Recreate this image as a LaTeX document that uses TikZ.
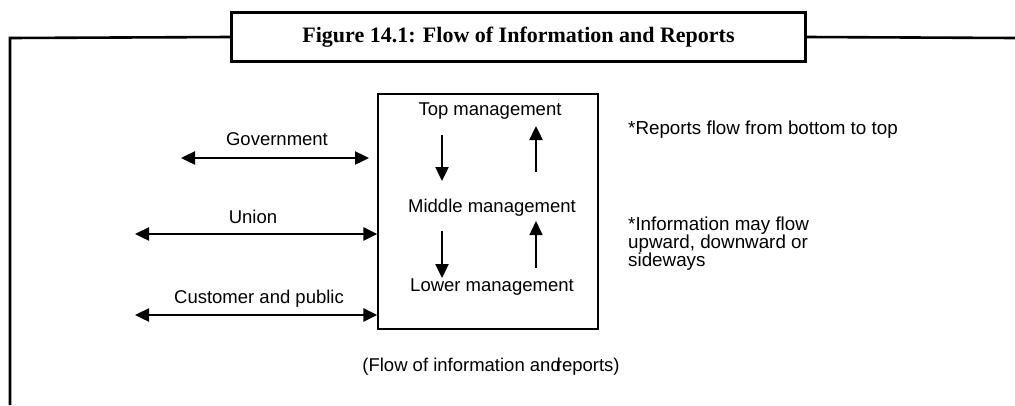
\documentclass[tikz,border=0pt]{standalone}
\usepackage{fontspec}
\setmainfont{Liberation Sans}
\newfontfamily\titlefont{Liberation Serif}
\usetikzlibrary{arrows.meta}
\begin{document}
\begin{tikzpicture}[x=1pt,y=-1pt,
  lbl/.style={font=\fontsize{18.5}{20}\selectfont, inner sep=0pt},
  note/.style={font=\fontsize{18.8}{19}\selectfont, inner sep=0pt, anchor=north west, align=left},
  harrow/.style={line width=2.4pt, {Triangle[length=14pt,width=13pt]}-{Triangle[length=14pt,width=13pt]}},
  varrow/.style={line width=2.4pt, -{Triangle[length=14pt,width=13pt]}},
  thinvarrow/.style={line width=1.5pt, -{Triangle[length=14pt,width=13pt]}},
  frame/.style={line width=2.6pt}
]
\useasboundingbox (0,0) rectangle (1015,405);
% title and frame
\node[draw, frame, minimum width=574pt, minimum height=49pt, inner sep=0pt,
      font=\titlefont\bfseries\fontsize{22}{24}\selectfont] (title) at (518.5,37) {Figure 14.1: Flow of Information and Reports};
\coordinate (fl) at (10,38);
\coordinate (fb) at (10,405);
\coordinate (fr) at (1015,38);
\draw[frame] (title.west) -- (fl) -- (fb);
\draw[frame] (title.east) -- (fr);
% main box
\node[draw, line width=1.3pt, minimum width=220pt, minimum height=235pt, inner sep=0pt] (org) at (488,211.5) {};
\node[lbl] (top) at (490,111) {Top management};
\node[lbl] (mid) at (492,208) {Middle management};
\node[lbl] (low) at (492,287) {Lower management};
% vertical arrows
\coordinate (d1s) at (442,135); \coordinate (d1e) at (442,181);
\coordinate (d2s) at (442,231); \coordinate (d2e) at (442,278);
\coordinate (u1s) at (536,172); \coordinate (u1e) at (536,126);
\coordinate (u2s) at (536,268); \coordinate (u2e) at (536,221);
\draw[varrow] (d1s) -- (d1e);
\draw[varrow] (d2s) -- (d2e);
\draw[varrow] (u1s) -- (u1e);
\draw[thinvarrow] (u2s) -- (u2e);
% horizontal arrows
\node[lbl] (gov) at (277,139) {Government};
\coordinate (g1) at (181,158); \coordinate (g2) at (369,158);
\draw[harrow] (g1) -- (g2);
\node[lbl] (uni) at (253,217) {Union};
\coordinate (un1) at (135,234);
\draw[harrow] (un1) -- (org.west |- un1);
\node[lbl] (cus) at (259,299) {Customer and public};
\coordinate (c1) at (135,315);
\draw[harrow] (c1) -- (org.west |- c1);
% caption
\node[lbl] (cap) at (491,367) {(Flow of information and\kern-5pt reports)};
% notes
\node[note] (n1) at (628,121) {*Reports flow from bottom to top};
\node[note] (n2) at (628,217) {*Information may flow\\[-1pt]upward, downward or\\[-1pt]sideways};
\end{tikzpicture}
\end{document}
